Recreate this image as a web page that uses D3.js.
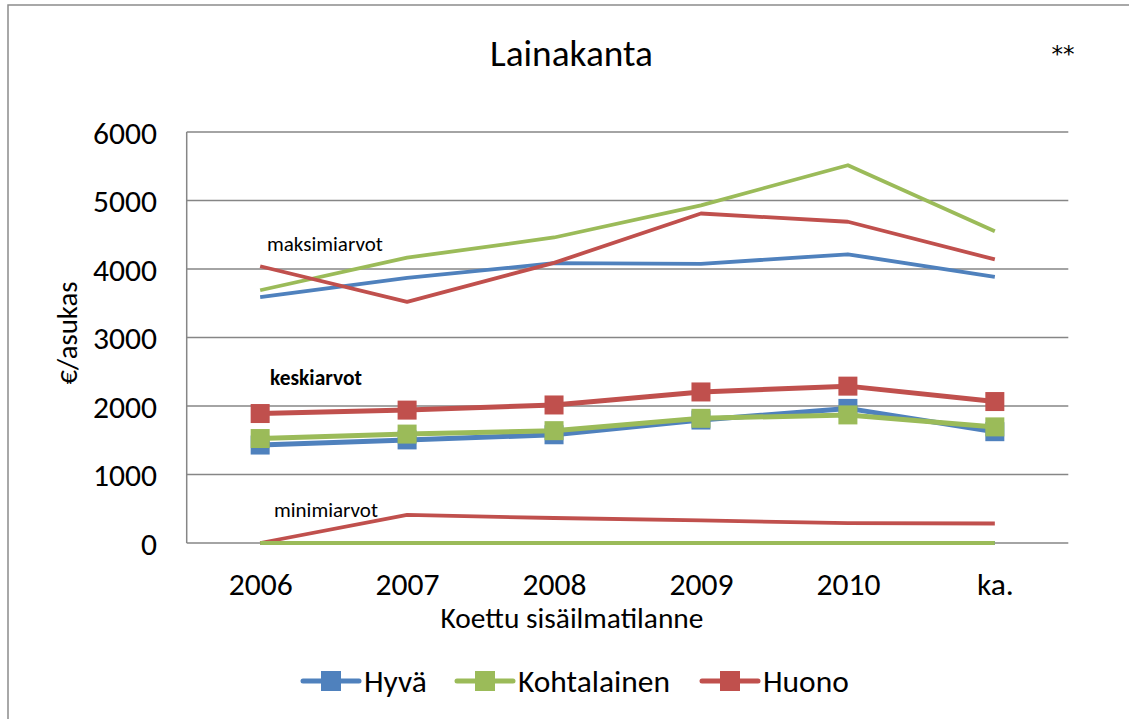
<!DOCTYPE html>
<html lang="fi">
<head>
    <meta charset="UTF-8">
    <title>Lainakanta</title>
    <script src="https://d3js.org/d3.v7.min.js"></script>
    <style>
        body { margin: 0; background: #fff; }
        svg text { font-family: Carlito, Calibri, Lato, sans-serif; fill: #000; }
        .axis path, .axis line { display: none; }
    </style>
</head>
<body>
    <div id="chart"></div>
    <script>
        // categories and series (€/asukas)
        var years = ["2006", "2007", "2008", "2009", "2010", "ka."];
        var groups = ["Hyvä", "Kohtalainen", "Huono"];
        var yTicks = [0, 1000, 2000, 3000, 4000, 5000, 6000];

        var maxHyva = [3590, 3870, 4085, 4075, 4215, 3885];
        var maxKohtalainen = [3690, 4165, 4460, 4930, 5515, 4550];
        var maxHuono = [4040, 3520, 4090, 4810, 4690, 4140];

        var meanHyva = [1430, 1505, 1580, 1795, 1965, 1625];
        var meanKohtalainen = [1525, 1590, 1640, 1820, 1870, 1695];
        var meanHuono = [1890, 1940, 2015, 2205, 2290, 2065];

        var minHyva = [0, 0, 0, 0, 0, 0];
        var minKohtalainen = [0, 0, 0, 0, 0, 0];
        var minHuono = [0, 410, 365, 330, 290, 285];

        var colors = { "Hyvä": "#4F81BD", "Kohtalainen": "#9BBB59", "Huono": "#C0504D" };

        var W = 1129, H = 719;
        var plot = { left: 186.7, right: 1068.3, top: 132, bottom: 543 };

        // scale a text's font size so it spans the given width
        function fit(sel, target) {
            var size = parseFloat(sel.style("font-size"));
            var w = sel.node().getComputedTextLength();
            var s = size * target / w;
            sel.style("font-size", s + "px");
            return s;
        }

        var svg = d3.select("#chart").append("svg")
            .attr("width", W)
            .attr("height", H);

        // outer chart frame (right/bottom edges cut off)
        svg.append("rect")
            .attr("x", 8).attr("y", 5)
            .attr("width", W + 20).attr("height", H + 20)
            .attr("fill", "none")
            .attr("stroke", "#8c8c8c")
            .attr("stroke-width", 1.5);

        var x = d3.scalePoint()
            .domain(years)
            .range([plot.left, plot.right])
            .padding(0.5);

        var y = d3.scaleLinear()
            .domain([0, 6000])
            .range([plot.bottom, plot.top]);

        // gridlines
        svg.append("g").selectAll("line")
            .data(yTicks)
            .enter().append("line")
            .attr("x1", plot.left).attr("x2", plot.right)
            .attr("y1", function(d) { return y(d); })
            .attr("y2", function(d) { return y(d); })
            .attr("stroke", "#868686")
            .attr("stroke-width", 1.5);

        svg.append("line")
            .attr("x1", plot.left).attr("x2", plot.left)
            .attr("y1", plot.top).attr("y2", plot.bottom)
            .attr("stroke", "#868686")
            .attr("stroke-width", 1.5);

        // axes
        var xAxis = svg.append("g")
            .attr("class", "axis")
            .attr("transform", "translate(0,595)")
            .call(d3.axisBottom(x).tickSize(0).tickPadding(0));
        xAxis.selectAll("text")
            .attr("y", 0).attr("dy", 0)
            .style("font-size", "28px");
        var tickSize = fit(xAxis.select(".tick text"), 64);
        xAxis.selectAll("text").style("font-size", tickSize + "px");

        var yAxis = svg.append("g")
            .attr("class", "axis")
            .attr("transform", "translate(157,0)")
            .call(d3.axisLeft(y).tickValues(yTicks).tickFormat(d3.format("d")).tickSize(0).tickPadding(0));
        yAxis.selectAll("text")
            .style("font-size", tickSize + "px")
            .attr("dy", "0.36em");

        var line = d3.line()
            .x(function(d, i) { return x(years[i]); })
            .y(function(d) { return y(d); });

        function drawLines(list, width) {
            svg.append("g").selectAll("path")
                .data(list)
                .enter().append("path")
                .attr("d", function(d) { return line(d.values); })
                .attr("fill", "none")
                .attr("stroke", function(d) { return colors[d.name]; })
                .attr("stroke-width", width)
                .attr("stroke-linejoin", "round");
        }

        var maxSeries = [
            { name: "Hyvä", values: maxHyva },
            { name: "Kohtalainen", values: maxKohtalainen },
            { name: "Huono", values: maxHuono }
        ];
        var minSeries = [
            { name: "Hyvä", values: minHyva },
            { name: "Huono", values: minHuono },
            { name: "Kohtalainen", values: minKohtalainen }
        ];
        var meanSeries = [
            { name: "Hyvä", values: meanHyva },
            { name: "Kohtalainen", values: meanKohtalainen },
            { name: "Huono", values: meanHuono }
        ];

        drawLines(maxSeries, 3.8);
        drawLines(minSeries, 3.8);

        // mean lines with square markers
        var ms = 19;
        meanSeries.forEach(function(s) {
            var g = svg.append("g");
            g.append("path")
                .attr("d", line(s.values))
                .attr("fill", "none")
                .attr("stroke", colors[s.name])
                .attr("stroke-width", 5)
                .attr("stroke-linejoin", "round");
            g.selectAll("rect")
                .data(s.values)
                .enter().append("rect")
                .attr("x", function(d, i) { return x(years[i]) - ms / 2; })
                .attr("y", function(d) { return y(d) - ms / 2; })
                .attr("width", ms)
                .attr("height", ms)
                .attr("fill", colors[s.name]);
        });

        // annotations
        fit(svg.append("text").attr("x", 267).attr("y", 251)
            .style("font-size", "18px").text("maksimiarvot"), 116);
        fit(svg.append("text").attr("x", 270).attr("y", 385)
            .style("font-size", "17px").style("font-weight", "bold").text("keskiarvot"), 92);
        fit(svg.append("text").attr("x", 274).attr("y", 517)
            .style("font-size", "18px").text("minimiarvot"), 104);

        // titles
        fit(svg.append("text")
            .attr("x", 490).attr("y", 66)
            .style("font-size", "33px")
            .text("Lainakanta"), 163);
        svg.append("text")
            .attr("x", 1063).attr("y", 62)
            .attr("text-anchor", "middle")
            .style("font-family", "'DejaVu Sans', sans-serif")
            .style("font-size", "23px")
            .text("**");
        fit(svg.append("text")
            .attr("transform", "translate(77,333) rotate(-90)")
            .attr("text-anchor", "middle")
            .style("font-size", "26px")
            .text("€/asukas"), 103);
        fit(svg.append("text")
            .attr("x", 572).attr("y", 628)
            .attr("text-anchor", "middle")
            .style("font-size", "23px")
            .text("Koettu sisäilmatilanne"), 263);

        // legend
        var legendX = [303, 457, 702];
        var legend = svg.append("g").selectAll("g")
            .data(groups)
            .enter().append("g")
            .attr("transform", function(d, i) { return "translate(" + legendX[i] + ",681)"; });
        legend.append("line")
            .attr("x1", 0).attr("x2", 56)
            .attr("stroke", function(d) { return colors[d]; })
            .attr("stroke-width", 5)
            .attr("stroke-linecap", "round");
        legend.append("rect")
            .attr("x", 18).attr("y", -10)
            .attr("width", 20).attr("height", 20)
            .attr("fill", function(d) { return colors[d]; });
        var legendText = legend.append("text")
            .attr("x", 61).attr("y", 0)
            .attr("dy", "0.34em")
            .style("font-size", "28px")
            .text(function(d) { return d; });
        var legendSize = fit(legendText.filter(function(d) { return d === "Kohtalainen"; }), 152);
        legendText.style("font-size", legendSize + "px");
    </script>
</body>
</html>
